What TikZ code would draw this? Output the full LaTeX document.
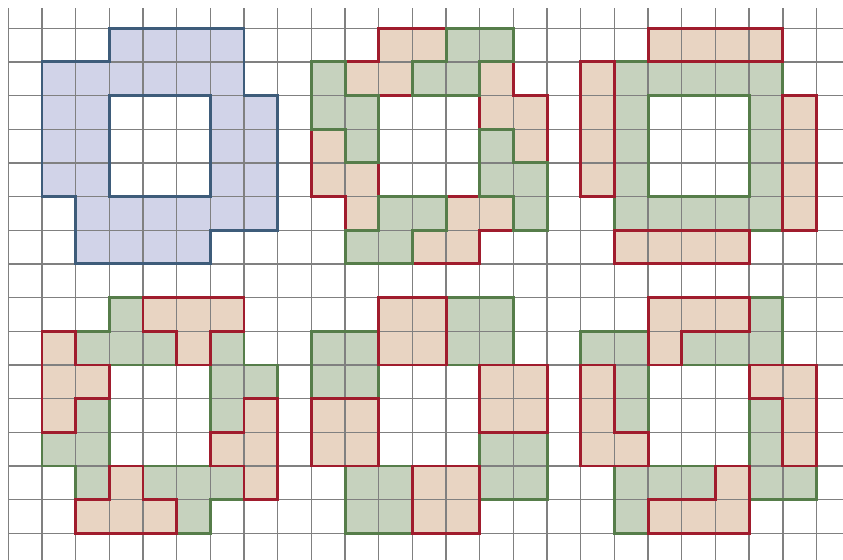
\documentclass[tikz,border=0pt]{standalone}
\usepackage{tikz}
\definecolor{bluefill}{RGB}{209,211,232}
\definecolor{blueline}{RGB}{62,92,122}
\definecolor{greenfill}{RGB}{198,210,190}
\definecolor{greenline}{RGB}{86,125,74}
\definecolor{redfill}{RGB}{232,212,194}
\definecolor{redline}{RGB}{160,28,45}
\definecolor{gridcol}{RGB}{128,128,128}

% tiles in grid units, (column,row) from the top left corner
\newcommand{\bluetiles}{{(3,0) -- (7,0) -- (7,2) -- (8,2) -- (8,6) -- (6,6) -- (6,7) -- (2,7) -- (2,5) -- (1,5) -- (1,1) -- (3,1) -- cycle (3,2) -- (6,2) -- (6,5) -- (3,5) -- cycle}}
% S pieces
\newcommand{\redS}{{(11,0) -- (13,0) -- (13,1) -- (12,1) -- (12,2) -- (10,2) -- (10,1) -- (11,1) -- cycle},
  {(14,1) -- (15,1) -- (15,2) -- (16,2) -- (16,4) -- (15,4) -- (15,3) -- (14,3) -- cycle},
  {(13,5) -- (15,5) -- (15,6) -- (14,6) -- (14,7) -- (12,7) -- (12,6) -- (13,6) -- cycle},
  {(9,3) -- (10,3) -- (10,4) -- (11,4) -- (11,6) -- (10,6) -- (10,5) -- (9,5) -- cycle}}
\newcommand{\greenS}{{(13,0) -- (15,0) -- (15,1) -- (14,1) -- (14,2) -- (12,2) -- (12,1) -- (13,1) -- cycle},
  {(14,3) -- (15,3) -- (15,4) -- (16,4) -- (16,6) -- (15,6) -- (15,5) -- (14,5) -- cycle},
  {(11,5) -- (13,5) -- (13,6) -- (12,6) -- (12,7) -- (10,7) -- (10,6) -- (11,6) -- cycle},
  {(9,1) -- (10,1) -- (10,2) -- (11,2) -- (11,4) -- (10,4) -- (10,3) -- (9,3) -- cycle}}
% I pieces, ring, T, O and L pieces
\newcommand{\redrest}{{(19,0) rectangle (23,1)}, {(17,1) rectangle (18,5)}, {(23,2) rectangle (24,6)}, {(18,6) rectangle (22,7)},
  {(4,8) -- (7,8) -- (7,9) -- (6,9) -- (6,10) -- (5,10) -- (5,9) -- (4,9) -- cycle},
  {(7,11) -- (8,11) -- (8,14) -- (7,14) -- (7,13) -- (6,13) -- (6,12) -- (7,12) -- cycle},
  {(3,13) -- (4,13) -- (4,14) -- (5,14) -- (5,15) -- (2,15) -- (2,14) -- (3,14) -- cycle},
  {(1,9) -- (2,9) -- (2,10) -- (3,10) -- (3,11) -- (2,11) -- (2,12) -- (1,12) -- cycle},
  {(11,8) rectangle (13,10)}, {(14,10) rectangle (16,12)}, {(9,11) rectangle (11,13)}, {(12,13) rectangle (14,15)},
  {(19,8) -- (22,8) -- (22,9) -- (20,9) -- (20,10) -- (19,10) -- cycle},
  {(22,10) -- (24,10) -- (24,13) -- (23,13) -- (23,11) -- (22,11) -- cycle},
  {(21,13) -- (22,13) -- (22,15) -- (19,15) -- (19,14) -- (21,14) -- cycle},
  {(17,10) -- (18,10) -- (18,12) -- (19,12) -- (19,13) -- (17,13) -- cycle}}
\newcommand{\greenrest}{{(18,1) -- (23,1) -- (23,6) -- (18,6) -- cycle (19,2) -- (22,2) -- (22,5) -- (19,5) -- cycle},
  {(3,8) -- (4,8) -- (4,9) -- (5,9) -- (5,10) -- (2,10) -- (2,9) -- (3,9) -- cycle},
  {(6,9) -- (7,9) -- (7,10) -- (8,10) -- (8,11) -- (7,11) -- (7,12) -- (6,12) -- cycle},
  {(4,13) -- (7,13) -- (7,14) -- (6,14) -- (6,15) -- (5,15) -- (5,14) -- (4,14) -- cycle},
  {(2,11) -- (3,11) -- (3,14) -- (2,14) -- (2,13) -- (1,13) -- (1,12) -- (2,12) -- cycle},
  {(13,8) rectangle (15,10)}, {(9,9) rectangle (11,11)}, {(14,12) rectangle (16,14)}, {(10,13) rectangle (12,15)},
  {(22,8) -- (23,8) -- (23,10) -- (20,10) -- (20,9) -- (22,9) -- cycle},
  {(22,11) -- (23,11) -- (23,13) -- (24,13) -- (24,14) -- (22,14) -- cycle},
  {(18,13) -- (21,13) -- (21,14) -- (19,14) -- (19,15) -- (18,15) -- cycle},
  {(17,9) -- (19,9) -- (19,12) -- (18,12) -- (18,10) -- (17,10) -- cycle}}

\begin{document}
\begin{tikzpicture}[x=1cm,y=-1cm,
  tile/.style={even odd rule},
  edge/.style={line width=2.5pt,line join=miter}]
\useasboundingbox (-0.247,-0.84) rectangle (24.79,15.79);
\clip (-0.247,-0.84) rectangle (24.79,15.79);
% fills
\foreach \t in \bluetiles \fill[tile,bluefill] \t;
\foreach \t in \redS \fill[tile,redfill] \t;
\foreach \t in \greenS \fill[tile,greenfill] \t;
\foreach \t in \redrest \fill[tile,redfill] \t;
\foreach \t in \greenrest \fill[tile,greenfill] \t;
% grid
\foreach \i in {0,...,24} \draw[gridcol,line width=1.3pt] (\i,-0.6) -- (\i,16);
\foreach \j in {0,...,15} \draw[gridcol,line width=1.3pt] (0,\j) -- (25,\j);
% outlines
\foreach \t in \bluetiles \draw[edge,blueline] \t;
\foreach \t in \redS \draw[edge,redline] \t;
\foreach \t in \greenS \draw[edge,greenline] \t;
\foreach \t in \greenrest \draw[edge,greenline] \t;
\foreach \t in \redrest \draw[edge,redline] \t;
\end{tikzpicture}
\end{document}
